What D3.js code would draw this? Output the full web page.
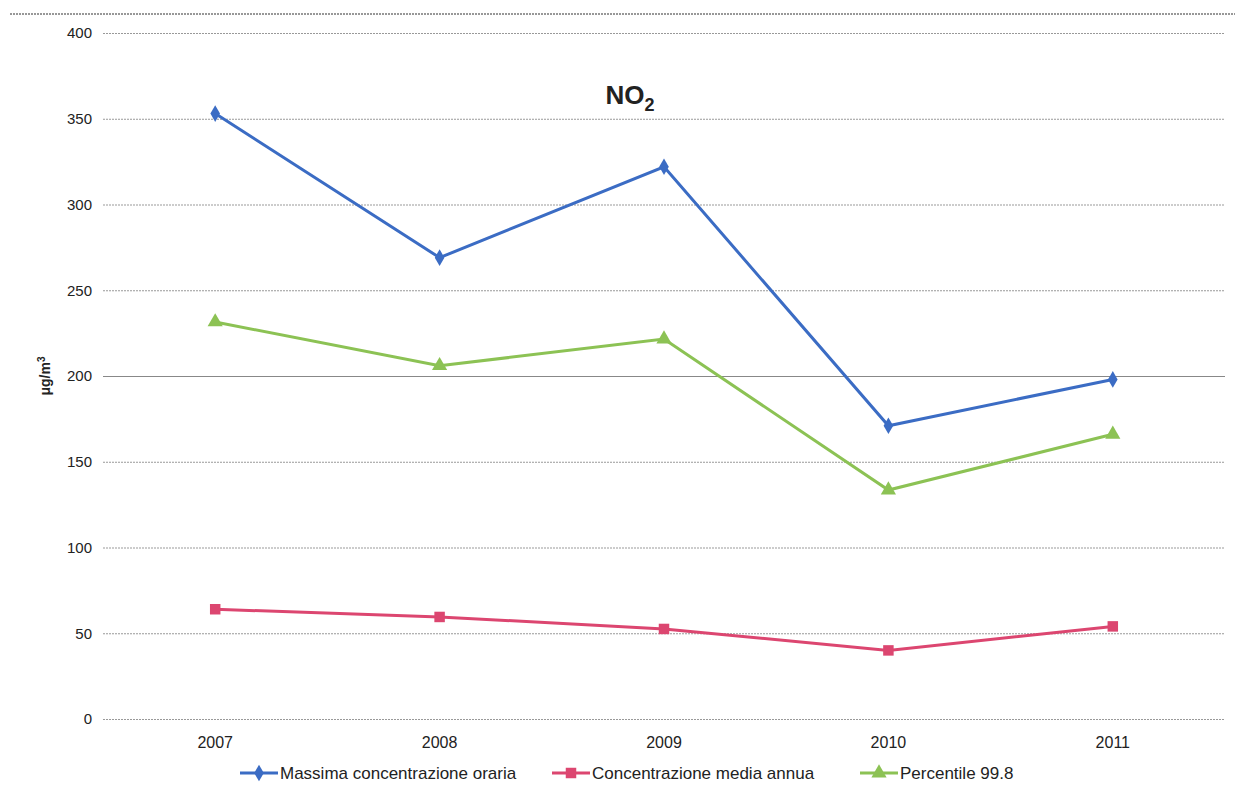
<!DOCTYPE html>
<html><head><meta charset="utf-8">
<script src="https://cdn.jsdelivr.net/npm/d3@7"></script>
<style>body{margin:0;background:#fff;font-family:"Liberation Sans",Arial,sans-serif}</style>
</head><body><svg id="c" width="1235" height="795"></svg>
<script>
const years = ["2007","2008","2009","2010","2011"];
const massima = [353, 269, 322, 171, 198];
const media = [64, 59.5, 52.5, 40, 54];
const percentile = [231.5, 206, 221.5, 133.5, 166];
const yTicks = [0,50,100,150,200,250,300,350,400];
const seriesNames = ["Massima concentrazione oraria","Concentrazione media annua","Percentile 99.8"];

const svg = d3.select("#c");
const x = d3.scaleBand().domain(years).range([103,1225]);
const y = d3.scaleLinear().domain([0,400]).range([719,33]);

// top border line
svg.append("line").attr("x1",10).attr("x2",1235).attr("y1",14).attr("y2",14)
  .attr("stroke","#777").attr("stroke-width",1.5).attr("stroke-dasharray","2,1");

// gridlines
svg.append("g").selectAll("line").data(yTicks).join("line")
  .attr("x1",103).attr("x2",1225).attr("y1",d=>y(d)+0.5).attr("y2",d=>y(d)+0.5)
  .attr("stroke",d=>d===200?"#888":"#999").attr("stroke-width",1)
  .attr("stroke-dasharray",d=>d===200?null:"2,1");

// y axis
const ya = svg.append("g").attr("transform","translate(92,0)")
  .call(d3.axisLeft(y).tickValues(yTicks).tickSize(0).tickPadding(0));
ya.select(".domain").remove();
ya.selectAll("text").attr("font-size",15).attr("fill","#222").attr("font-family","Liberation Sans, Arial, sans-serif");

// x axis
const xa = svg.append("g").attr("transform","translate(0,733)")
  .call(d3.axisBottom(x).tickSize(0).tickPadding(4));
xa.select(".domain").remove();
xa.selectAll("text").attr("font-size",16).attr("fill","#222").attr("font-family","Liberation Sans, Arial, sans-serif");

// y label
svg.append("text").attr("transform","translate(50,376) rotate(-90)").attr("text-anchor","middle")
  .attr("font-size",14).attr("font-weight","bold").attr("fill","#222")
  .html('μg/m<tspan dy="-5" font-size="10">3</tspan>');

// title
svg.append("text").attr("x",630).attr("y",104).attr("text-anchor","middle")
  .attr("font-size",26).attr("font-weight","bold").attr("fill","#222")
  .html('NO<tspan dy="7" font-size="18">2</tspan>');

const colors = ["#3b6cc4","#dc4670","#8cc254"];
const data = [massima, media, percentile];
const line = d3.line().x((d,i)=>x(years[i])+x.bandwidth()/2).y(d=>y(d));

const diamond = d3.symbol().type(d3.symbolDiamond).size(80);
const square = d3.symbol().type(d3.symbolSquare).size(110);
const triangle = d3.symbol().type(d3.symbolTriangle).size(100);
const syms = [diamond, square, triangle];

data.forEach((s,k)=>{
  svg.append("path").datum(s).attr("d",line).attr("fill","none")
    .attr("stroke",colors[k]).attr("stroke-width",3);
  svg.append("g").selectAll("path").data(s).join("path")
    .attr("transform",(d,i)=>`translate(${x(years[i])+x.bandwidth()/2},${y(d)})`)
    .attr("d",syms[k]).attr("fill",colors[k]);
});

// legend
const lx = [240, 552, 860];
seriesNames.forEach((n,k)=>{
  const g = svg.append("g").attr("transform",`translate(${lx[k]},773)`);
  g.append("line").attr("x1",0).attr("x2",38).attr("y1",0).attr("y2",0)
    .attr("stroke",colors[k]).attr("stroke-width",3);
  g.append("path").attr("transform","translate(19,0)").attr("d",syms[k]).attr("fill",colors[k]);
  g.append("text").attr("x",40).attr("y",6).attr("font-size",17).attr("fill","#222").text(n);
});
</script></body></html>
